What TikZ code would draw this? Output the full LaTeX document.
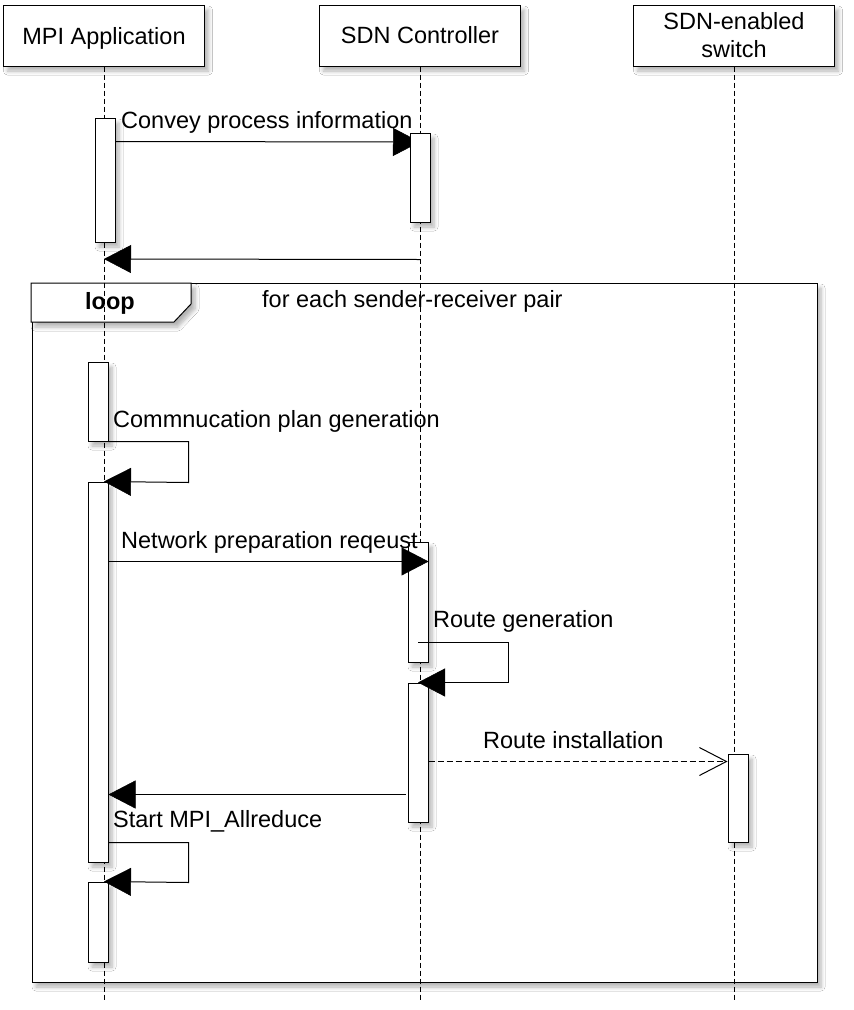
\documentclass[tikz,border=0pt]{standalone}
\usepackage{fontspec}
\setmainfont{Liberation Sans}
\usetikzlibrary{arrows.meta,shadows.blur,calc}
\begin{document}
\begin{tikzpicture}[x=1pt,y=-1pt,
 every node/.style={font=\fontsize{23.5}{28}\selectfont},
 shad/.style={blur shadow={shadow xshift=4pt,shadow yshift=-5pt,shadow blur radius=4pt,shadow blur steps=6,shadow opacity=30}},
 head/.style={draw, line width=1pt, fill=white, minimum width=201pt, minimum height=61pt, align=center, inner sep=0pt, shad},
 bar/.style={draw, line width=1pt, fill=white, minimum width=20pt, inner sep=0pt, shad},
 life/.style={line width=0.9pt, dash pattern=on 5pt off 3pt},
 msg/.style={line width=1pt, -{Triangle[length=27pt,width=28pt,fill=black,line width=0.5pt]}},
 async/.style={line width=0.9pt, dash pattern=on 6pt off 3pt, -{Straight Barb[length=27pt,width=28pt,line width=1pt]}},
 lbl/.style={anchor=base west, inner sep=0pt}]
\useasboundingbox (0,0) rectangle (854,1010);
\fill[white] (0,0) rectangle (854,1010);

% loop frame
\draw[line width=1pt, fill=white, shad] (32,283) rectangle (817,982);
\draw[line width=1pt, fill=white, shad] (31,283) -- (191,283) -- (191,304) -- (174,322) -- (31,322) -- cycle;

% headers
\node[head, text depth=0pt] (mpi) at (104,35.5) {MPI Application};
\node[head] (sdn) at (420,35.5) {SDN Controller};
\node[head] (sw) at (734,35.5) {SDN-enabled\\switch};

% lifelines
\coordinate (e1) at (104,1002);
\coordinate (e2) at (420,1002);
\coordinate (e3) at (734,1002);
\draw[life] (mpi) -- (e1);
\draw[life] (sdn) -- (e2);
\draw[life] (sw) -- (e3);

% first exchange
\node[bar, minimum height=124pt] (a1) at (105,180) {};
\coordinate (t1) at (420,142);
\draw[msg] ($(a1.north east)+(0,24)$) -- (t1);
\node[bar, minimum height=89pt] (s1) at (420,177.5) {};
\coordinate (t2) at (104,259);
\draw[msg] ($(s1.south)+(0,37)$) -- (t2);

% loop body
\node[bar, minimum height=79pt] (a2) at (98,401.5) {};
\node[bar, minimum height=380pt] (a3) at (98,672) {};
\draw[msg] (a2.south east) -- ++(80,0) -- ++(0,41) -- ($(a3.north)+(6,0)$);

\node[bar, minimum height=120pt] (s2) at (418,602) {};
\draw[msg] ($(a3.north east)+(0,80)$) -- ($(s2.north east)+(0,20)$);

\node[bar, minimum height=139pt] (s3) at (418,752.5) {};
\draw[msg] ($(s2.south)+(0,-20)$) -- ++(90,0) -- ++(0,40) -- (s3.north);

\node[bar, minimum height=88pt] (w1) at (738,798) {};
\draw[async] ($(s3.north east)+(0,79)$) -- ($(w1.north west)+(0,8)$);

\draw[msg] ($(s3.north west)+(-2,112)$) -- ($(a3.north east)+(0,313)$);

\node[bar, minimum height=80pt] (a4) at (98,922) {};
\draw[msg] ($(a3.south east)+(0,-20)$) -- ++(80,0) -- ++(0,40) -- ($(a4.north)+(6,0)$);

% labels
\node[anchor=base, inner sep=0pt, font=\fontsize{23.5}{28}\selectfont\bfseries] (looplbl) at (110,309) {loop};
\node[lbl] (guard) at (262,307) {for each sender-receiver pair};
\node[lbl] (l1) at (121,128) {Convey process information};
\node[lbl] (l2) at (113,427) {Commnucation plan generation};
\node[lbl] (l3) at (121,548) {Network preparation reqeust};
\node[lbl] (l4) at (433,627) {Route generation};
\node[lbl] (l5) at (483,748) {Route installation};
\node[lbl] (l6) at (113,827) {Start MPI\_Allreduce};
\end{tikzpicture}
\end{document}
